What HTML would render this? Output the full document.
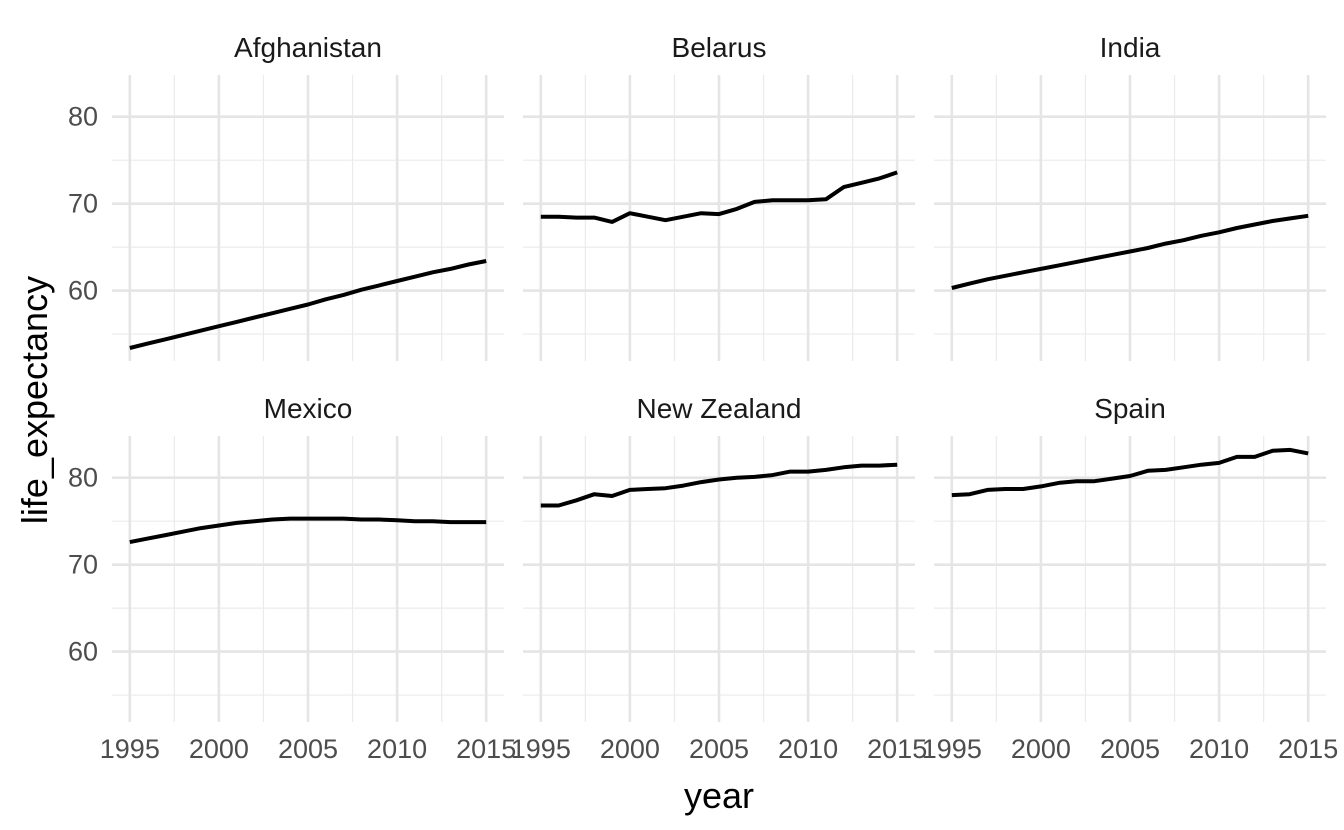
<!DOCTYPE html>
<html><head><meta charset="utf-8"><style>
html,body{margin:0;padding:0;background:#fff;}
svg{display:block;font-family:"Liberation Sans",Arial,sans-serif;}
</style></head><body>
<svg id="chart" width="1344" height="830"></svg>
<script>
const countries=["Afghanistan","Belarus","India","Mexico","New Zealand","Spain"];
const years=[1995,1996,1997,1998,1999,2000,2001,2002,2003,2004,2005,2006,2007,2008,2009,2010,2011,2012,2013,2014,2015];
const afghanistan=[53.4,53.9,54.4,54.9,55.4,55.9,56.4,56.9,57.4,57.9,58.4,59.0,59.5,60.1,60.6,61.1,61.6,62.1,62.5,63.0,63.4];
const belarus=[68.5,68.5,68.4,68.4,67.9,68.9,68.5,68.1,68.5,68.9,68.8,69.4,70.2,70.4,70.4,70.4,70.5,71.9,72.4,72.9,73.6];
const india=[60.3,60.8,61.3,61.7,62.1,62.5,62.9,63.3,63.7,64.1,64.5,64.9,65.4,65.8,66.3,66.7,67.2,67.6,68.0,68.3,68.6];
const mexico=[72.6,73.0,73.4,73.8,74.2,74.5,74.8,75.0,75.2,75.3,75.3,75.3,75.3,75.2,75.2,75.1,75.0,75.0,74.9,74.9,74.9];
const newZealand=[76.8,76.8,77.4,78.1,77.9,78.6,78.7,78.8,79.1,79.5,79.8,80.0,80.1,80.3,80.7,80.7,80.9,81.2,81.4,81.4,81.5];
const spain=[78.0,78.1,78.6,78.7,78.7,79.0,79.4,79.6,79.6,79.9,80.2,80.8,80.9,81.2,81.5,81.7,82.4,82.4,83.1,83.2,82.8];
const seriesList=[afghanistan,belarus,india,mexico,newZealand,spain];
const xTicks=[1995,2000,2005,2010,2015];
const yTicks=[60,70,80];

const NS="http://www.w3.org/2000/svg";
const svg=document.getElementById('chart');
function mk(tag,attrs,parent){const e=document.createElementNS(NS,tag);for(const k in attrs)e.setAttribute(k,attrs[k]);(parent||svg).appendChild(e);return e;}
const xMin=1994,xMax=2016,yMin=51.9,yMax=84.8;
const panelW=392,panelLefts=[112,523,934],rowTops=[75,436],panelH=286;
function xs(p,v){return panelLefts[p]+(v-xMin)/(xMax-xMin)*panelW;}
function ys(r,v){return rowTops[r]+panelH-(v-yMin)/(yMax-yMin)*panelH;}

countries.forEach((c,i)=>{
  const p=i%3,r=Math.floor(i/3);
  const g=mk('g',{});
  
  
  const L=panelLefts[p],T=rowTops[r];
  for(let y=55;y<yMax;y+=10){mk('line',{x1:L,x2:L+panelW,y1:ys(r,y),y2:ys(r,y),stroke:'#ebebeb','stroke-width':1.2},g);}
  for(let x=1997.5;x<xMax;x+=5){mk('line',{x1:xs(p,x),x2:xs(p,x),y1:T,y2:T+panelH,stroke:'#ebebeb','stroke-width':1.2},g);}
  yTicks.forEach(v=>mk('line',{x1:L,x2:L+panelW,y1:ys(r,v),y2:ys(r,v),stroke:'#e5e5e5','stroke-width':2.6},g));
  xTicks.forEach(v=>mk('line',{x1:xs(p,v),x2:xs(p,v),y1:T,y2:T+panelH,stroke:'#e5e5e5','stroke-width':2.6},g));
  const s=mk('text',{x:L+panelW/2,y:T-18,'text-anchor':'middle','font-size':28,fill:'#1a1a1a'},g);
  s.textContent=c;
  
  
  const vals=seriesList[i];
  const d=years.map((yr,k)=>(k?'L':'M')+xs(p,yr).toFixed(1)+','+ys(r,vals[k]).toFixed(1)).join(' ');
  const path=mk('path',{d:d,fill:'none',stroke:'#000','stroke-width':4,'stroke-linejoin':'round'},g);
  
  
  if(p===0){
    yTicks.forEach(v=>{const t=mk('text',{x:L-14,y:ys(r,v)+9,'text-anchor':'end','font-size':27,fill:'#4d4d4d'},g);t.textContent=v;
      
      });
  }
  if(r===1){
    xTicks.forEach(v=>{const t=mk('text',{x:xs(p,v),y:758,'text-anchor':'middle','font-size':27,fill:'#4d4d4d'},g);t.textContent=v;
      
      });
  }
});
const xt=mk('text',{x:719,y:808,'text-anchor':'middle','font-size':36,fill:'#000'});xt.textContent='year';


const yt=mk('text',{x:0,y:0,'text-anchor':'middle','font-size':36,fill:'#000',transform:'translate(47,400) rotate(-90)'});yt.textContent='life_expectancy';


</script>
</body></html>
